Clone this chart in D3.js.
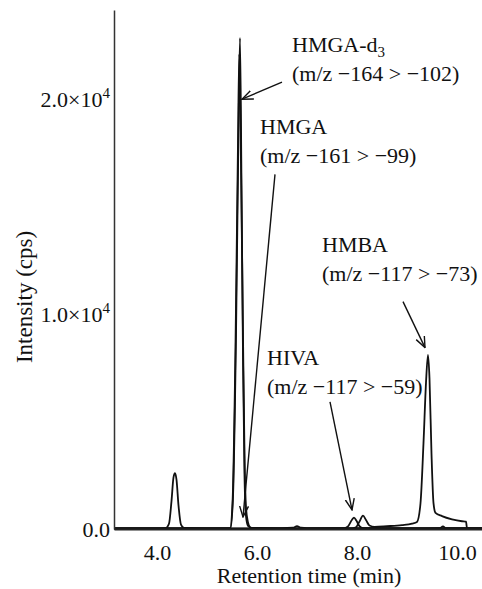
<!DOCTYPE html>
<html>
<head>
<meta charset="utf-8">
<script src="https://cdn.jsdelivr.net/npm/d3@7"></script>
<style>
  html, body { margin: 0; padding: 0; background: #fff; }
  svg { display: block; }
  text { font-family: "Liberation Serif", "Times New Roman", serif; fill: #111; }
</style>
</head>
<body>
<svg id="chart" width="482" height="589"></svg>
<script>
// ---- data (retention time in min, intensity in cps) ----
const xTicks = [4, 6, 8, 10];
const xTickLabels = ["4.0", "6.0", "8.0", "10.0"];
const yTicks = [0, 10000, 20000];
const yTickLabels = [["0.0", ""], ["1.0×10", "4"], ["2.0×10", "4"]];

// HMGA-d3 (m/z -164 > -102)
const traceHMGAd3 = [
  [3.14, 40], [4.0, 40], [5.0, 35], [5.47, 40], [5.52, 1500], [5.58, 9000], [5.63, 18500],
  [5.66, 22850], [5.69, 16000], [5.72, 8000], [5.75, 2500], [5.78, 600], [5.82, 150],
  [5.9, 50], [6.5, 40], [6.72, 60], [6.8, 130], [6.88, 60], [7.0, 40], [8.5, 40],
  [9.5, 40], [10.5, 40]
];
// HMGA (m/z -161 > -99)
const traceHMGA = [
  [3.14, 25], [4.0, 25], [5.0, 25], [5.46, 30], [5.51, 1200], [5.57, 8500], [5.62, 18000],
  [5.645, 22100], [5.68, 17000], [5.72, 9000], [5.75, 3500], [5.78, 1000], [5.82, 300],
  [5.86, 80], [5.92, 30], [7.0, 25], [9.0, 25], [10.5, 25]
];
// HIVA (m/z -117 > -59)
const traceHIVA = [
  [3.14, 30], [4.0, 30], [4.17, 40], [4.24, 250], [4.29, 1300], [4.33, 2400], [4.36, 2600],
  [4.39, 2300], [4.43, 1100], [4.48, 200], [4.54, 50], [5.0, 30], [6.0, 30], [7.0, 30],
  [7.75, 40], [7.82, 120], [7.9, 430], [7.94, 530], [7.99, 380], [8.05, 130], [8.12, 40],
  [9.0, 30], [9.65, 35], [9.72, 120], [9.78, 35], [10.5, 30]
];
// HMBA (m/z -117 > -73)
const traceHMBA = [
  [3.14, 15], [4.0, 15], [6.0, 15], [7.0, 20], [7.9, 20], [7.98, 80], [8.05, 350],
  [8.12, 620], [8.18, 420], [8.25, 160], [8.35, 100], [8.6, 130], [8.9, 180], [9.1, 250],
  [9.2, 330], [9.27, 1200], [9.33, 4000], [9.38, 6800], [9.42, 8100], [9.45, 7000],
  [9.49, 3500], [9.53, 1200], [9.57, 750], [9.7, 600], [9.9, 450], [10.1, 360],
  [10.18, 340], [10.2, 40], [10.5, 30]
];
const traces = [traceHMGAd3, traceHMGA, traceHIVA, traceHMBA];

// annotations: label anchor (t, v) and arrow from -> to, in data units
const annoNames = ["HMGA-d", "HMGA", "HMBA", "HIVA"];
const annoSubs = ["3", "", "", ""];
const annoTransitions = ["(m/z −164 > −102)", "(m/z −161 > −99)", "(m/z −117 > −73)", "(m/z −117 > −59)"];
const annoLabelPos = [[6.70, 22190], [6.06, 18370], [7.30, 12870], [6.20, 7650]];
const annoArrowFrom = [[6.50, 20790], [6.36, 16500], [8.92, 10580], [7.46, 5920]];
const annoArrowTo = [[5.70, 20000], [5.72, 560], [9.36, 8440], [7.90, 890]];

// ---- chart ----
const svg = d3.select("#chart");
const x = d3.scaleLinear().domain([3.14, 10.5]).range([114, 482]);
const y = d3.scaleLinear().domain([0, 24150]).range([529, 10]);

// traces
const line = d3.line().x(d => x(d[0])).y(d => y(d[1])).curve(d3.curveMonotoneX);
svg.append("g").selectAll("path").data(traces).join("path")
  .attr("d", line)
  .attr("fill", "none")
  .attr("stroke", "#111")
  .attr("stroke-width", 1.8)
  .attr("stroke-linejoin", "round");

// axes
const yAxis = svg.append("g").attr("transform", "translate(114,0)")
  .call(d3.axisLeft(y).tickValues(yTicks).tickSize(0).tickPadding(4));
yAxis.select(".domain").attr("stroke", "#333").attr("stroke-width", 1.5);
yAxis.selectAll(".tick text")
  .attr("font-size", 22)
  .attr("dy", "0.32em")
  .text(null)
  .each(function(d, i) {
    const t = d3.select(this);
    t.append("tspan").text(yTickLabels[i][0]);
    if (yTickLabels[i][1]) {
      t.append("tspan").attr("font-size", 15).attr("dy", -9).text(yTickLabels[i][1]);
    }
  });

const xAxis = svg.append("g").attr("transform", "translate(0,529)")
  .call(d3.axisBottom(x).tickValues(xTicks).tickSize(0).tickPadding(15)
    .tickFormat((d, i) => xTickLabels[i]));
xAxis.select(".domain").attr("stroke", "#222").attr("stroke-width", 2);
xAxis.selectAll(".tick text").attr("font-size", 22);
svg.selectAll(".tick text").attr("fill", "#111").style("font-family", "'Liberation Serif', 'Times New Roman', serif");

// axis titles
svg.append("text")
  .attr("x", 309).attr("y", 583)
  .attr("text-anchor", "middle")
  .attr("font-size", 22)
  .text("Retention time (min)");
svg.append("text")
  .attr("transform", "translate(32,297) rotate(-90)")
  .attr("text-anchor", "middle")
  .attr("font-size", 23)
  .text("Intensity (cps)");

// arrow marker
svg.append("defs").append("marker")
  .attr("id", "arrow")
  .attr("viewBox", "0 0 12 12")
  .attr("refX", 11).attr("refY", 6)
  .attr("markerWidth", 12).attr("markerHeight", 12)
  .attr("markerUnits", "userSpaceOnUse")
  .attr("orient", "auto")
  .append("path")
  .attr("d", "M0,1.5 L11,6 L0,10.5")
  .attr("fill", "none")
  .attr("stroke", "#111")
  .attr("stroke-width", 1.4);

const annoG = svg.append("g");
annoNames.forEach((name, i) => {
  const lx = x(annoLabelPos[i][0]), ly = y(annoLabelPos[i][1]);
  const t1 = annoG.append("text").attr("x", lx).attr("y", ly).attr("font-size", 22);
  t1.append("tspan").text(name);
  if (annoSubs[i]) {
    t1.append("tspan").attr("font-size", 15).attr("dy", 5).text(annoSubs[i]);
  }
  annoG.append("text").attr("x", lx).attr("y", ly + 29).attr("font-size", 22)
    .text(annoTransitions[i]);
  annoG.append("line")
    .attr("x1", x(annoArrowFrom[i][0])).attr("y1", y(annoArrowFrom[i][1]))
    .attr("x2", x(annoArrowTo[i][0])).attr("y2", y(annoArrowTo[i][1]))
    .attr("stroke", "#111").attr("stroke-width", 1.4)
    .attr("marker-end", "url(#arrow)");
});
</script>
</body>
</html>
